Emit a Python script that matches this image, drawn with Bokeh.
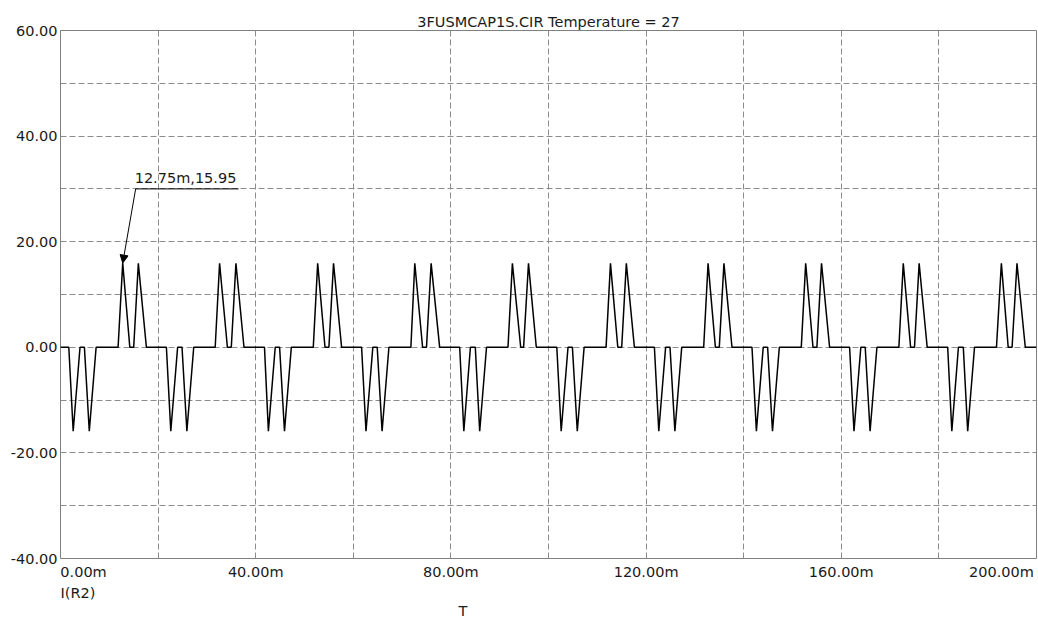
from bokeh.plotting import figure
from bokeh.models import Range1d, FixedTicker, Arrow, NormalHead, Title, Label
from bokeh.embed import file_html
from bokeh.resources import INLINE

TITLE = "3FUSMCAP1S.CIR Temperature = 27"
TRACE_NAME = "I(R2)"
X_NAME = "T"

# x in ms, y in A
X_TICKS = [0, 40, 80, 120, 160, 200]
X_LABELS = ["0.00m", "40.00m", "80.00m", "120.00m", "160.00m", "200.00m"]
Y_TICKS = [-40, -20, 0, 20, 40, 60]
Y_LABELS = ["-40.00", "-20.00", "0.00", "20.00", "40.00", "60.00"]
X_GRID = [0, 20, 40, 60, 80, 100, 120, 140, 160, 180, 200]
Y_GRID = [-40, -30, -20, -10, 0, 10, 20, 30, 40, 50, 60]

# pulses: onset time, peak time, end time (ms), peak value (A)
PULSE_START = [1.7, 4.9, 11.8, 15.0, 21.7, 24.9, 31.7, 35.0,
               41.8, 44.9, 51.8, 55.0, 61.7, 64.9, 71.8, 75.0,
               81.8, 85.0, 91.7, 94.9, 101.7, 104.9, 111.8, 115.0,
               121.7, 124.9, 131.8, 135.0, 141.7, 144.9, 151.8, 155.0,
               161.7, 164.9, 171.8, 175.0, 181.8, 185.0, 191.8, 195.0]
PULSE_PEAK_T = [2.6, 5.9, 12.75, 15.95, 22.6, 25.9, 32.6, 35.95,
                42.6, 45.9, 52.7, 55.95, 62.6, 65.9, 72.6, 75.95,
                82.65, 85.9, 92.6, 95.9, 102.6, 105.9, 112.7, 115.95,
                122.6, 125.9, 132.7, 135.95, 142.6, 145.9, 152.7, 155.95,
                162.6, 165.9, 172.7, 175.95, 182.65, 185.9, 192.8, 196.0]
PULSE_END = [4.0, 7.3, 14.2, 17.6, 24.0, 27.3, 34.2, 37.6,
             44.0, 47.3, 54.2, 57.6, 64.0, 67.3, 74.2, 77.7,
             84.0, 87.3, 94.3, 97.5, 104.0, 107.3, 114.2, 117.6,
             124.0, 127.3, 134.2, 137.6, 144.0, 147.3, 154.2, 157.6,
             164.0, 167.3, 174.2, 177.6, 184.0, 187.3, 194.2, 197.7]
PULSE_PEAK = [-15.9, -15.9, 15.95, 15.9, -15.9, -15.9, 15.9, 15.9,
              -15.9, -15.9, 15.9, 15.9, -15.9, -15.9, 15.9, 15.9,
              -15.9, -15.9, 15.9, 15.9, -15.9, -15.9, 15.9, 15.9,
              -15.9, -15.9, 15.9, 15.9, -15.9, -15.9, 15.9, 15.9,
              -15.9, -15.9, 15.9, 15.9, -15.9, -15.9, 15.9, 15.9]
T_START, T_STOP = 0.0, 200.0

MARKER_T, MARKER_I = 12.75, 15.95
MARKER_TEXT = "12.75m,15.95"
MARKER_LEADER_T0, MARKER_LEADER_T1, MARKER_LEADER_I = 15.4, 36.5, 30.0

# build trace
t = [T_START]
i = [0.0]
for s, pt, e, pv in zip(PULSE_START, PULSE_PEAK_T, PULSE_END, PULSE_PEAK):
    t += [s, pt, e]
    i += [0.0, pv, 0.0]
t.append(T_STOP)
i.append(0.0)

FONT = "DejaVu Sans"
FS = "14.5px"
TXT = "#1a1a1a"
GRID_C = "#8c8c8c"
NBSP = "\u00a0"

W, H = 1038, 618
MB_L, MB_R, MB_T, MB_B = 60, 2, 30, 59

p = figure(width=W, height=H, output_backend="svg", toolbar_location=None,
           x_range=Range1d(X_TICKS[0], X_TICKS[-1]), y_range=Range1d(Y_TICKS[0], Y_TICKS[-1]),
           min_border_left=MB_L, min_border_right=MB_R, min_border_top=MB_T,
           min_border_bottom=MB_B)
p.title = Title(text=TITLE, align="center", offset=0, text_font=FONT, text_font_size=FS,
                text_font_style="normal", text_color=TXT, standoff=2)
p.background_fill_color = "white"
p.border_fill_color = "white"
p.outline_line_color = "#808080"
p.outline_line_width = 1

for ax in (p.xaxis, p.yaxis):
    ax.axis_line_color = None
    ax.major_tick_line_color = None
    ax.minor_tick_line_color = None
    ax.major_tick_out = 0
    ax.major_tick_in = 0
    ax.minor_tick_out = 0
    ax.minor_tick_in = 0
    ax.major_label_text_font = FONT
    ax.major_label_text_font_size = FS
    ax.major_label_text_color = TXT

p.yaxis.ticker = FixedTicker(ticks=Y_TICKS)
p.yaxis.major_label_overrides = {tk: lb for tk, lb in zip(Y_TICKS, Y_LABELS)}
p.yaxis.major_label_standoff = 3

# first label starts at the left frame edge, last one ends just inside the right edge
x_over = {tk: lb for tk, lb in zip(X_TICKS, X_LABELS)}
x_over[X_TICKS[0]] = NBSP * 10 + X_LABELS[0]
x_over[X_TICKS[-1]] = X_LABELS[-1] + NBSP
p.xaxis.ticker = FixedTicker(ticks=X_TICKS)
p.xaxis.major_label_overrides = x_over
p.xaxis.major_label_standoff = 5

p.xgrid.ticker = FixedTicker(ticks=X_GRID)
p.ygrid.ticker = FixedTicker(ticks=Y_GRID)
for g in (p.xgrid, p.ygrid):
    g.grid_line_color = GRID_C
    g.grid_line_dash = "6 3"
    g.grid_line_width = 1

p.line(t, i, line_color="black", line_width=1.5)

# marker annotation
p.add_layout(Arrow(x_start=MARKER_LEADER_T0, y_start=MARKER_LEADER_I, x_end=MARKER_T, y_end=MARKER_I,
                   line_color="black", line_width=1,
                   end=NormalHead(size=8, fill_color="black", line_color="black")))
p.line([MARKER_LEADER_T0, MARKER_LEADER_T1], [MARKER_LEADER_I, MARKER_LEADER_I],
       line_color="black", line_width=1)
p.add_layout(Label(x=MARKER_LEADER_T0, y=MARKER_LEADER_I, x_offset=-1, y_offset=3,
                   text=MARKER_TEXT, text_baseline="bottom", text_align="left",
                   text_font=FONT, text_font_size=FS, text_color=TXT))

# trace name and x name below the axis
p.add_layout(Title(text=TRACE_NAME, align="left", offset=0, standoff=0,
                   text_font=FONT, text_font_size=FS, text_font_style="normal",
                   text_color=TXT), "below")
p.add_layout(Title(text=X_NAME, align="left", offset=398, standoff=0,
                   text_font=FONT, text_font_size=FS, text_font_style="normal",
                   text_color=TXT), "below")

open("out.html", "w").write(file_html(p, INLINE))
